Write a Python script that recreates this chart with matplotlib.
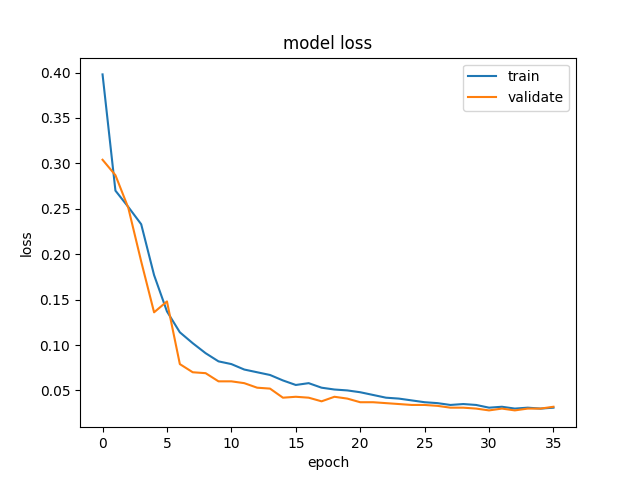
import matplotlib
matplotlib.use("Agg")
import matplotlib.pyplot as plt

# loss per epoch
train_loss = [0.398, 0.270, 0.252, 0.233, 0.177, 0.137, 0.114, 0.102, 0.091, 0.082,
              0.079, 0.073, 0.070, 0.067, 0.061, 0.056, 0.058, 0.053, 0.051, 0.050,
              0.048, 0.045, 0.042, 0.041, 0.039, 0.037, 0.036, 0.034, 0.035, 0.034,
              0.031, 0.032, 0.030, 0.031, 0.030, 0.031]
val_loss = [0.304, 0.287, 0.251, 0.192, 0.136, 0.148, 0.079, 0.070, 0.069, 0.060,
            0.060, 0.058, 0.053, 0.052, 0.042, 0.043, 0.042, 0.038, 0.043, 0.041,
            0.037, 0.037, 0.036, 0.035, 0.034, 0.034, 0.033, 0.031, 0.031, 0.030,
            0.028, 0.030, 0.028, 0.030, 0.030, 0.032]

plt.figure(figsize=(6.4, 4.8), dpi=100)
plt.plot(train_loss)
plt.plot(val_loss)
plt.title("model loss")
plt.ylabel("loss")
plt.xlabel("epoch")
plt.legend(["train", "validate"], loc="upper right")
plt.savefig("out.png")
